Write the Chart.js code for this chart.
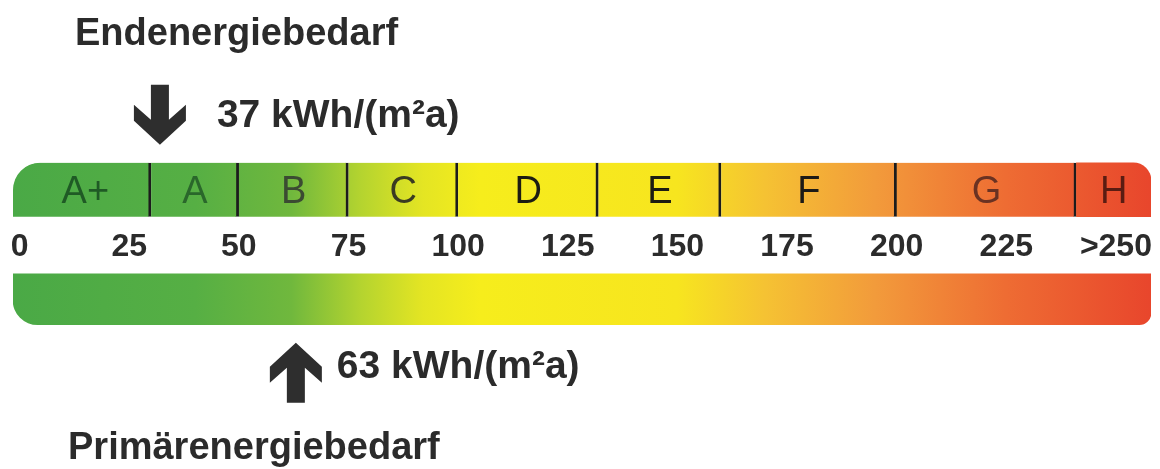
<!DOCTYPE html>
<html lang="de">
<head>
<meta charset="UTF-8">
<title>Energiebedarf</title>
<script src="https://cdn.jsdelivr.net/npm/chart.js"></script>
<style>
    html, body { margin: 0; padding: 0; background: #fff; }
    #chart { display: block; }
</style>
</head>
<body>
<canvas id="chart" width="1160" height="469"></canvas>
<script>
// Effizienzklassen, Grenzen in kWh/(m²a)
const classNames = ['A+', 'A', 'B', 'C', 'D', 'E', 'F', 'G', 'H'];
const classEdges = [-1.5, 30, 50, 75, 100, 132, 160, 200, 241, 258];
const rows = ['Endenergie', 'Primärenergie'];

// Skala
const tickValues = [0, 25, 50, 75, 100, 125, 150, 175, 200, 225, 250];
const tickLabels = ['0', '25', '50', '75', '100', '125', '150', '175', '200', '225', '>250'];

// Pfeile: Stelle auf der Skala (wie im Bild) und Beschriftung
const markerAt = [32, 63];
const markerText = ['37 kWh/(m²a)', '63 kWh/(m²a)'];
const titles = ['Endenergiebedarf', 'Primärenergiebedarf'];

// Farben
const gradStops = [
    [-1.5, '#4aa946'], [40, '#56af44'], [62, '#70b83d'], [78, '#b5d42f'],
    [92, '#e4e523'], [105, '#f6ed1c'], [150, '#f7e51f'], [170, '#f5c233'],
    [195, '#f29b3b'], [225, '#ee6c33'], [258, '#e8462c']
];
const letterColors = ['#1f5a25', '#2a672b', '#3b4b32', '#3a3a22', '#1c1c12', '#1c1c12', '#1c1a16', '#6a3222', '#5a1c12'];
const textColor = '#2b2b2b';

let gradCache = null;
function barGradient(ctx) {
    const chart = ctx.chart;
    const area = chart.chartArea;
    if (!area) return '#8c8';
    if (gradCache && gradCache.left === area.left && gradCache.right === area.right) return gradCache.g;
    const x = chart.scales.x;
    const g = chart.ctx.createLinearGradient(area.left, 0, area.right, 0);
    gradStops.forEach(([v, c]) => {
        let t = (x.getPixelForValue(v) - area.left) / (area.right - area.left);
        g.addColorStop(Math.min(1, Math.max(0, t)), c);
    });
    gradCache = { left: area.left, right: area.right, g: g };
    return g;
}

function drawArrow(ctx, cx, tip, dir) {
    // dir = 1 zeigt nach unten, -1 nach oben
    const pts = [[-9, -60], [9, -60], [9, -25], [26, -40], [26, -24], [0, 0], [-26, -24], [-26, -40], [-9, -25]];
    ctx.beginPath();
    pts.forEach(([px, py], i) => {
        const y = tip + py * dir;
        if (i === 0) ctx.moveTo(cx + px, y); else ctx.lineTo(cx + px, y);
    });
    ctx.closePath();
    ctx.fill();
}

const labelPlugin = {
    id: 'energyLabels',
    afterDatasetsDraw(chart) {
        const { ctx } = chart;
        const x = chart.scales.x;
        const topBars = chart.getDatasetMeta(0).data;
        const bottomBar = chart.getDatasetMeta(1).data[0];
        ctx.save();

        // Klassenbuchstaben
        ctx.font = '38px "Liberation Sans", Arial, sans-serif';
        ctx.textAlign = 'center';
        ctx.textBaseline = 'alphabetic';
        topBars.forEach((bar, i) => {
            const lo = Math.max(classEdges[i], 0);
            const cx = x.getPixelForValue((lo + classEdges[i + 1]) / 2);
            ctx.fillStyle = letterColors[i];
            ctx.fillText(classNames[i], cx, bar.y + 13);
        });

        // Pfeile und Werte
        ctx.fillStyle = '#2e2e2e';
        const tipTop = topBars[0].y - topBars[0].height / 2 - 18;
        const ax0 = x.getPixelForValue(markerAt[0]);
        drawArrow(ctx, ax0, tipTop, 1);
        const tipBottom = bottomBar.y + bottomBar.height / 2 + 18;
        const ax1 = x.getPixelForValue(markerAt[1]);
        drawArrow(ctx, ax1, tipBottom, -1);

        ctx.fillStyle = textColor;
        ctx.textAlign = 'left';
        ctx.font = 'bold 39px "Liberation Sans", Arial, sans-serif';
        ctx.fillText(markerText[0], ax0 + 57, tipTop - 18);
        ctx.fillText(markerText[1], ax1 + 41, tipBottom + 35);

        // Überschriften
        ctx.font = 'bold 38px "Liberation Sans", Arial, sans-serif';
        ctx.fillText(titles[0], 75, 45);
        ctx.fillText(titles[1], 68, 459);
        ctx.restore();
    }
};

const lastClass = classNames.length - 1;
const classData = classNames.map((n, i) => ({ y: rows[0], x: [classEdges[i], classEdges[i + 1]] }));

new Chart(document.getElementById('chart'), {
    type: 'bar',
    data: {
        labels: rows,
        datasets: [
            {
                data: classData,
                backgroundColor: barGradient,
                borderColor: '#1c1c1c',
                borderWidth: ctx => ctx.dataIndex < lastClass ? { top: 0, right: 3, bottom: 0, left: 0 } : 0,
                borderSkipped: false,
                borderRadius: ctx => ctx.dataIndex === 0 ? { topLeft: 27 } : (ctx.dataIndex === lastClass ? { topRight: 18 } : 0),
                barThickness: 54,
                grouped: false
            },
            {
                data: [{ y: rows[1], x: [classEdges[0], classEdges[classEdges.length - 1]] }],
                backgroundColor: barGradient,
                borderWidth: 0,
                borderSkipped: false,
                borderRadius: { bottomLeft: 25, bottomRight: 12 },
                barThickness: 51,
                grouped: false
            }
        ]
    },
    options: {
        indexAxis: 'y',
        responsive: false,
        animation: false,
        layout: { padding: { left: 13, right: 9, top: 135, bottom: 115 } },
        plugins: {
            legend: { display: false },
            tooltip: { enabled: false }
        },
        scales: {
            x: {
                type: 'linear',
                position: 'center',
                min: classEdges[0],
                max: classEdges[classEdges.length - 1],
                grid: { display: false, drawTicks: false },
                border: { display: false },
                afterBuildTicks: scale => {
                    scale.ticks = tickValues.map(v => ({ value: v }));
                },
                ticks: {
                    autoSkip: false,
                    maxRotation: 0,
                    padding: -17,
                    color: textColor,
                    font: { family: '"Liberation Sans", Arial, sans-serif', size: 32, weight: 'bold' },
                    callback: (v, i) => tickLabels[i]
                }
            },
            y: {
                type: 'category',
                display: false
            }
        }
    },
    plugins: [labelPlugin]
});
</script>
</body>
</html>
